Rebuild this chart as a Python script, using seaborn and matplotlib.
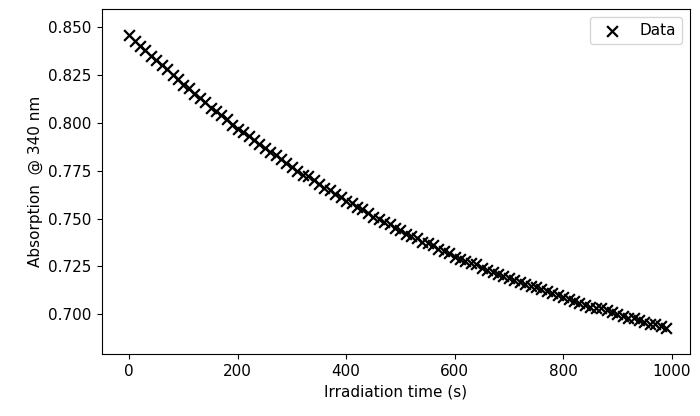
import numpy as np
import pandas as pd
import matplotlib
matplotlib.use("Agg")
import matplotlib.pyplot as plt
import seaborn as sns

sns.set_style("ticks")

# irradiation time (s) and absorption
time_s = list(range(0, 1000, 10))
absorption = [
    0.846, 0.843, 0.840, 0.838, 0.835, 0.833, 0.830, 0.828, 0.825, 0.823,
    0.820, 0.818, 0.815, 0.813, 0.811, 0.808, 0.806, 0.804, 0.802, 0.799,
    0.797, 0.795, 0.793, 0.791, 0.789, 0.787, 0.785, 0.783, 0.781, 0.779,
    0.777, 0.775, 0.773, 0.772, 0.770, 0.768, 0.766, 0.765, 0.763, 0.761,
    0.759, 0.758, 0.756, 0.755, 0.753, 0.751, 0.750, 0.748, 0.747, 0.745,
    0.744, 0.742, 0.741, 0.740, 0.738, 0.737, 0.736, 0.734, 0.733, 0.732,
    0.730, 0.729, 0.728, 0.727, 0.726, 0.724, 0.723, 0.722, 0.721, 0.720,
    0.719, 0.718, 0.717, 0.716, 0.715, 0.714, 0.713, 0.712, 0.711, 0.710,
    0.709, 0.708, 0.707, 0.706, 0.705, 0.704, 0.703, 0.703, 0.702, 0.701,
    0.700, 0.699, 0.698, 0.698, 0.697, 0.696, 0.695, 0.695, 0.694, 0.693,
]

df = pd.DataFrame({"t": time_s, "A": absorption})

fig = plt.figure(figsize=(7, 4.16), dpi=100)
ax = fig.add_axes([0.145, 0.148, 0.84, 0.83])
sns.scatterplot(data=df, x="t", y="A", marker="x", color="black", s=60,
                linewidth=1.6, label="Data", ax=ax)
ax.set_xlim(-51, 1033)
ax.set_ylim(0.679, 0.8594)
ax.set_xticks([0, 200, 400, 600, 800, 1000])
ax.set_yticks(np.arange(0.700, 0.851, 0.025))
ax.yaxis.set_major_formatter(matplotlib.ticker.FormatStrFormatter("%.3f"))
for s in ax.spines.values():
    s.set_visible(True)
    s.set_color("black")
ax.tick_params(labelsize=11, direction="out", colors="black")
ax.set_xlabel("Irradiation time (s)", fontsize=11, color="black")
ax.set_ylabel("Absorption  @ 340 nm", fontsize=11, color="black")
leg = ax.legend(loc="upper right", fontsize=11)
for t in leg.get_texts():
    t.set_color("black")
fig.savefig("out.png", dpi=100)
